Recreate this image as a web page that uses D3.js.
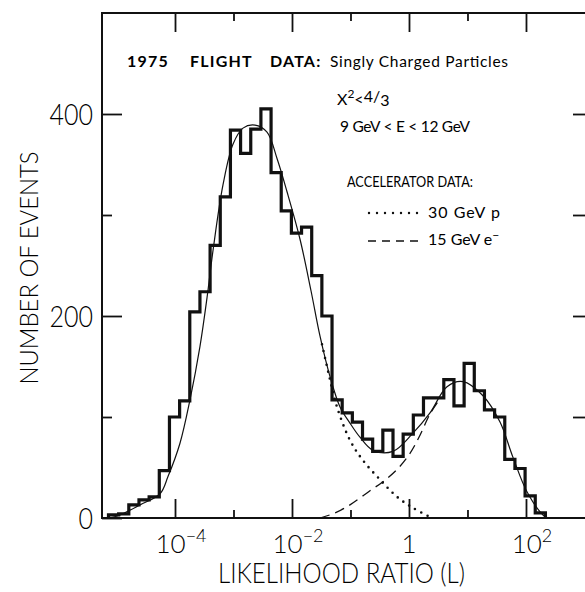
<!DOCTYPE html>
<html>
<head>
<meta charset="utf-8">
<script src="https://cdn.jsdelivr.net/npm/d3@7"></script>
<style>
  body { margin: 0; background: #fff; }
  svg text { font-family: Lato, "DejaVu Sans", sans-serif; fill: #000; }
</style>
</head>
<body>
<svg id="chart"></svg>
<script>
// histogram: equal bins in log10(L), counts
const binStartLog = -5.137;
const binWidthLog = 0.1737;
const binCounts = [3, 4, 13, 18, 21, 47, 100, 116, 204, 224, 270, 318, 384, 361, 385,
  405, 342, 304, 282, 288, 240, 200, 117, 104, 95, 78, 66, 87, 61, 83, 102, 119, 119,
  137, 111, 153, 126, 107, 100, 58, 49, 22, 5];

// fitted curves, [log10 L, events]
const fitTotal = [[-5.111, 0], [-4.94, 3], [-4.598, 13], [-4.256, 24], [-4.12, 41],
  [-3.915, 74], [-3.744, 117], [-3.573, 170], [-3.453, 218], [-3.35, 265], [-3.179, 330],
  [-3.009, 370], [-2.838, 386], [-2.632, 389], [-2.427, 382], [-2.256, 356], [-2.085, 323],
  [-1.863, 276], [-1.675, 225], [-1.521, 180], [-1.35, 140], [-1.179, 110], [-1.009, 94],
  [-0.838, 80], [-0.615, 67], [-0.274, 66], [0.068, 84], [0.359, 104], [0.65, 130],
  [0.923, 135], [1.265, 121], [1.556, 95], [1.778, 60], [2.017, 26], [2.291, 3], [2.376, 0]];
const protonTail = [[-1.487, 172], [-1.35, 137], [-1.231, 110], [-1.009, 77], [-0.786, 57],
  [-0.496, 38], [-0.205, 21], [0.068, 10], [0.359, 1]];
const electronCurve = [[-1.521, 0], [-1.265, 5], [-1.009, 13], [-0.667, 27], [-0.444, 36],
  [-0.205, 48], [0.017, 64], [0.188, 82], [0.359, 103], [0.53, 118]];

const xDecades = [1e-4, 1e-3, 1e-2, 1e-1, 1, 1e1, 1e2];
const xMajor = [1e-4, 1e-2, 1, 1e2];
const xLabelExps = ["\u22124", "\u22122", "", "2"];
const yMajor = [0, 200, 400];
const yMinor = [100, 300];
const yRight = [100, 200, 300, 400];

const W = 585, H = 592;
const margin = { top: 13, right: -1, bottom: 74, left: 102 };
const svg = d3.select("#chart").attr("width", W).attr("height", H);

const x = d3.scaleLog()
  .domain([Math.pow(10, -5.248), Math.pow(10, 3.026)])
  .range([margin.left, W - margin.right]);
const y = d3.scaleLinear().domain([0, 500]).range([H - margin.bottom, margin.top]);
const lx = v => x(Math.pow(10, v));

const x0 = margin.left, x1 = W - margin.right, y0 = y(0), y1 = y(500);

// frame
svg.append("rect")
  .attr("x", x0).attr("y", y1).attr("width", x1 - x0).attr("height", y0 - y1)
  .attr("fill", "none").attr("stroke", "#111").attr("stroke-width", 2);

// ticks (inward)
function tickAxis(axis, tx, ty) {
  const g = svg.append("g").attr("transform", `translate(${tx},${ty})`).call(axis);
  g.select(".domain").remove();
  g.selectAll("text").remove();
  g.selectAll("line").attr("stroke", "#111").attr("stroke-width", 1.8);
}
const xMinor = xDecades.filter(d => !xMajor.includes(d));
tickAxis(d3.axisBottom(x).tickValues(xMajor).tickSizeInner(-19), 0, y0);
tickAxis(d3.axisBottom(x).tickValues(xMinor).tickSizeInner(-8), 0, y0);
tickAxis(d3.axisTop(x).tickValues(xMajor).tickSizeInner(-19), 0, y1);
tickAxis(d3.axisTop(x).tickValues(xMinor).tickSizeInner(-8), 0, y1);
tickAxis(d3.axisLeft(y).tickValues(yMajor).tickSizeInner(-20), x0, 0);
tickAxis(d3.axisLeft(y).tickValues(yMinor).tickSizeInner(-10), x0, 0);
tickAxis(d3.axisRight(y).tickValues(yRight).tickSizeInner(-13), x1, 0);

// tick labels
svg.append("g").selectAll("text")
  .data(yMajor).join("text")
  .attr("x", 93).attr("y", d => y(d) + 11)
  .attr("text-anchor", "end")
  .attr("font-size", 30).attr("font-weight", 300)
  .attr("textLength", d => String(d).length * 14.5)
  .attr("lengthAdjust", "spacingAndGlyphs")
  .text(d => d);

const xl = svg.append("g").selectAll("text")
  .data(xMajor).join("text")
  .attr("x", (d, i) => x(d) + (xLabelExps[i] ? 6 : 0))
  .attr("y", 553)
  .attr("text-anchor", "middle")
  .attr("font-size", 26).attr("font-weight", 300);
xl.append("tspan").text(d => d === 1 ? "1" : "10");
xl.append("tspan").attr("dy", -11).attr("font-size", 18)
  .text((d, i) => xLabelExps[i]);

// axis titles
svg.append("text")
  .attr("transform", "translate(38,268) rotate(-90)")
  .attr("text-anchor", "middle")
  .attr("font-size", 26).attr("font-weight", 300)
  .attr("textLength", 233).attr("lengthAdjust", "spacingAndGlyphs")
  .text("NUMBER OF EVENTS");
svg.append("text")
  .attr("x", 218).attr("y", 583)
  .attr("font-size", 27).attr("font-weight", 300)
  .attr("textLength", 247).attr("lengthAdjust", "spacingAndGlyphs")
  .text("LIKELIHOOD RATIO (L)");

// histogram
const edge = i => lx(binStartLog + i * binWidthLog);
let d = `M${edge(0)},${y(0)}`;
binCounts.forEach((c, i) => { d += `V${y(c)}H${edge(i + 1)}`; });
d += `V${y(0)}`;
svg.append("path").attr("d", d)
  .attr("fill", "none").attr("stroke", "#111").attr("stroke-width", 3.2)
  .attr("stroke-linejoin", "miter");

// curves
const line = d3.line().x(p => lx(p[0])).y(p => y(p[1])).curve(d3.curveCatmullRom.alpha(0.5));
svg.append("path").attr("d", line(fitTotal))
  .attr("fill", "none").attr("stroke", "#111").attr("stroke-width", 1.2);
svg.append("path").attr("d", line(protonTail))
  .attr("fill", "none").attr("stroke", "#111").attr("stroke-width", 2.6)
  .attr("stroke-linecap", "round").attr("stroke-dasharray", "0 7");
svg.append("path").attr("d", line(electronCurve))
  .attr("fill", "none").attr("stroke", "#111").attr("stroke-width", 1.3)
  .attr("stroke-dasharray", "10 6");

// annotations
const t1 = svg.append("text").attr("y", 67).attr("font-size", 16)
  .attr("font-weight", 700).attr("letter-spacing", 1.2);
t1.append("tspan").attr("x", 127).text("1975");
t1.append("tspan").attr("x", 190).text("FLIGHT");
t1.append("tspan").attr("x", 270).text("DATA:");
svg.append("text").attr("x", 330).attr("y", 67).attr("font-size", 15.5)
  .attr("textLength", 178).attr("lengthAdjust", "spacing")
  .text("Singly Charged Particles");

const t2 = svg.append("text").attr("x", 337).attr("y", 105).attr("font-size", 16);
t2.append("tspan").text("X");
t2.append("tspan").attr("dy", -7).attr("font-size", 12).text("2");
t2.append("tspan").attr("dy", 7).text("<");
t2.append("tspan").attr("dy", -3).text("4");
t2.append("tspan").text("/");
t2.append("tspan").attr("dy", 4).text("3");

svg.append("text").attr("x", 340).attr("y", 132).attr("font-size", 15.5)
  .attr("textLength", 130).attr("lengthAdjust", "spacing")
  .text("9 GeV < E < 12 GeV");

svg.append("text").attr("x", 347).attr("y", 187).attr("font-size", 15.5)
  .attr("textLength", 126).attr("lengthAdjust", "spacingAndGlyphs")
  .text("ACCELERATOR DATA:");

svg.append("line").attr("x1", 369).attr("x2", 418).attr("y1", 213).attr("y2", 213)
  .attr("stroke", "#111").attr("stroke-width", 2.4)
  .attr("stroke-linecap", "round").attr("stroke-dasharray", "0 8");
svg.append("text").attr("x", 428).attr("y", 218).attr("font-size", 16)
  .attr("textLength", 72).attr("lengthAdjust", "spacing").text("30 GeV p");

svg.append("line").attr("x1", 368).attr("x2", 418).attr("y1", 241).attr("y2", 241)
  .attr("stroke", "#111").attr("stroke-width", 1.5).attr("stroke-dasharray", "8 6");
const t5 = svg.append("text").attr("x", 428).attr("y", 245).attr("font-size", 16);
t5.append("tspan").text("15 GeV e");
t5.append("tspan").attr("dy", -6).attr("font-size", 12).text("\u2212");
</script>
</body>
</html>
